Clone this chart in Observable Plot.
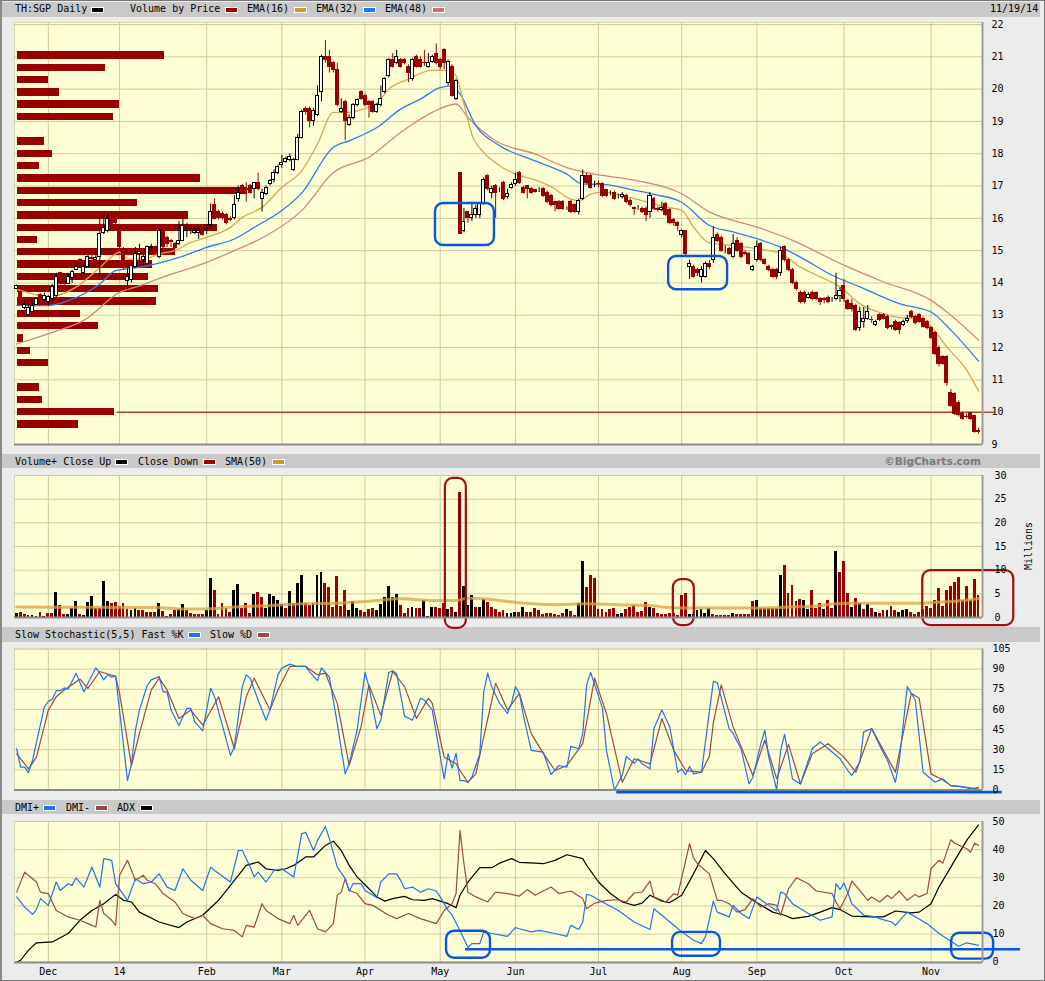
<!DOCTYPE html>
<html><head><meta charset="utf-8">
<script src="https://cdn.jsdelivr.net/npm/d3@7"></script>
<script src="https://cdn.jsdelivr.net/npm/@observablehq/plot@0.6"></script>
<style>
html,body{margin:0;padding:0;background:#ececec;}
#root{position:relative;width:1045px;height:981px;overflow:hidden;background:#ececec;}
.band{position:absolute;left:2px;width:1038px;background:#c9c9c9;}
.t{position:absolute;font-family:"DejaVu Sans Mono",monospace;font-size:10px;color:#000;white-space:pre;line-height:10px;}
.sw{position:absolute;width:11px;height:4px;border:1px solid #fff;}
#edge{position:absolute;left:0;top:0;width:1045px;height:981px;box-sizing:border-box;border:1px solid #777;border-left:2px solid #8a8a8a;pointer-events:none;}
</style></head><body><div id="root"></div>
<script>
// ---------- categories / axis ----------
const MONTH_LABELS = ["Dec","14","Feb","Mar","Apr","May","Jun","Jul","Aug","Sep","Oct","Nov"];
const MONTH_IDX = [8,26,48,67,88,107,126,147,168,187,209,231];
const PRICE_TICKS = [9,10,11,12,13,14,15,16,17,18,19,20,21,22];
const VOL_TICKS = [0,5,10,15,20,25,30];
const STO_TICKS = [0,15,30,45,60,75,90,105];
const DMI_TICKS = [0,10,20,30,40,50];

// ---------- daily OHLC ----------
const OPEN = [13.82,13.71,13.23,13.02,13.11,13.32,13.62,13.48,13.40,13.50,
13.60,14.30,14.18,13.98,14.16,14.40,14.71,14.30,14.50,14.78,
14.72,14.80,15.55,15.60,15.98,15.98,15.62,15.00,14.07,14.08,
14.50,14.90,14.70,14.60,15.08,15.10,14.80,15.60,15.40,15.30,
15.20,15.20,15.30,15.60,15.60,15.55,15.55,15.60,15.60,15.80,
16.42,16.20,16.15,16.10,15.98,16.00,16.60,17.00,16.90,17.00,
16.90,17.10,16.60,16.75,17.05,17.20,17.40,17.65,17.75,17.80,
17.50,17.80,18.50,19.40,19.40,19.00,19.20,19.90,21.00,21.00,
20.80,20.60,19.30,19.60,18.90,19.10,19.50,19.90,19.80,19.60,
19.60,19.30,19.50,19.90,20.40,20.90,20.80,20.90,20.90,20.70,
20.30,21.00,20.90,20.82,20.70,20.85,21.10,20.90,21.20,20.20,
20.70,19.70,17.40,15.60,16.20,16.00,16.10,16.10,16.45,17.30,
16.80,17.00,16.85,17.10,16.65,16.95,17.05,17.40,16.95,17.00,
16.90,16.88,16.85,16.90,16.80,16.70,16.50,16.50,16.50,16.30,
16.50,16.40,16.20,16.60,17.30,17.30,17.05,17.07,17.05,16.87,
16.80,16.80,16.70,16.65,16.70,16.55,16.32,16.30,16.30,16.30,
16.20,16.60,16.28,16.25,16.45,16.25,15.95,15.85,15.50,15.60,
14.50,14.50,14.40,14.20,14.20,14.60,14.70,15.50,15.40,15.05,
15.05,14.80,15.30,15.20,14.92,14.90,14.40,14.70,15.20,14.70,
14.50,14.40,14.40,14.30,15.10,14.70,14.40,14.00,13.70,13.70,
13.55,13.70,13.70,13.50,13.50,13.55,13.50,13.50,13.60,13.90,
13.45,13.35,13.30,12.60,12.80,12.90,12.86,12.70,13.00,13.00,
12.95,12.66,12.80,12.75,12.70,12.82,13.10,12.95,13.00,12.90,
12.80,12.60,12.45,12.00,11.70,11.70,10.60,10.55,10.30,9.95,
9.86,9.98,9.88,9.42];
const HIGH = [13.94,13.75,13.42,13.35,13.43,13.52,13.66,13.69,13.60,13.95,
14.30,14.33,14.22,14.30,14.40,14.59,14.75,14.55,14.85,14.98,
15.00,16.13,16.10,16.13,16.05,16.05,15.65,15.10,14.45,14.60,
15.10,15.20,14.90,15.15,15.20,15.15,15.65,15.65,15.45,15.35,
15.25,15.90,16.10,15.85,15.70,15.70,15.72,15.65,15.80,16.45,
16.60,16.25,16.20,16.15,16.05,16.70,17.00,17.05,17.10,17.05,
17.10,17.40,16.90,17.00,17.20,17.50,17.65,17.95,17.90,18.00,
17.85,18.60,19.35,19.45,19.45,19.40,20.10,21.05,21.50,21.20,
20.85,20.80,19.70,19.65,19.20,19.55,19.70,19.95,19.85,19.65,
19.65,19.55,20.10,20.35,20.95,21.10,21.20,20.95,20.95,20.75,
20.95,21.05,21.00,21.20,21.10,21.05,21.40,20.95,21.25,20.90,
20.75,20.30,17.42,16.30,16.20,16.50,16.40,16.50,17.25,17.35,
17.00,17.05,16.95,17.15,16.90,17.10,17.40,17.45,17.00,17.00,
16.95,16.90,16.95,16.95,16.85,16.75,16.50,16.55,16.55,16.35,
16.55,16.45,16.60,17.50,17.40,17.35,17.15,17.15,17.10,16.90,
16.85,16.85,16.75,16.80,16.75,16.60,16.35,16.40,16.35,16.35,
16.80,16.65,16.35,16.50,16.50,16.30,16.00,15.90,15.65,15.60,
14.70,14.55,14.45,14.50,14.65,14.70,15.73,15.55,15.45,15.15,
15.10,15.50,15.40,15.25,15.00,14.95,14.55,15.30,15.25,14.75,
14.55,14.45,14.45,15.10,15.15,14.75,14.45,14.05,13.75,13.75,
13.70,13.75,13.72,13.55,13.55,13.60,13.55,14.30,13.85,14.10,
13.50,13.50,13.35,13.25,13.25,13.30,12.95,12.85,13.05,13.05,
13.00,12.70,12.85,12.80,12.85,13.00,13.15,13.00,13.05,12.95,
12.85,12.65,12.50,12.05,11.75,11.75,10.70,10.60,10.35,10.00,
9.95,10.00,9.90,9.50];
const LOW = [13.80,13.50,13.17,12.99,13.09,13.30,13.50,13.40,13.29,13.48,
13.55,13.87,13.90,13.96,13.98,14.38,14.45,14.28,14.48,14.70,
14.69,14.20,15.50,15.55,15.80,15.80,15.05,14.40,13.78,14.00,
14.45,14.70,14.55,14.55,15.00,14.90,14.75,15.05,15.10,15.10,
15.05,15.15,15.28,15.40,15.50,15.50,15.35,15.45,15.50,15.70,
15.95,15.95,15.95,15.80,15.90,15.95,16.50,16.75,16.50,16.75,
16.60,16.85,16.20,16.70,17.00,17.10,17.35,17.55,17.70,17.75,
17.45,17.78,18.45,19.20,18.80,18.85,19.15,19.60,20.80,20.50,
20.50,19.45,19.25,18.40,18.85,19.05,19.45,19.65,19.45,19.10,
19.25,19.25,19.45,19.85,20.35,20.65,20.75,20.65,20.75,20.20,
20.25,20.65,20.65,20.70,20.65,20.80,20.75,20.60,20.60,20.10,
19.75,19.65,15.50,15.55,15.85,15.90,16.00,16.00,16.40,16.85,
16.60,16.00,16.80,16.55,16.60,16.90,17.00,17.05,16.75,16.60,
16.75,16.78,16.80,16.65,16.45,16.35,16.20,16.25,16.25,16.25,
16.15,16.15,16.10,16.55,17.05,16.90,16.95,16.95,16.65,16.65,
16.70,16.55,16.60,16.60,16.45,16.35,16.10,16.25,16.15,15.90,
16.00,16.25,16.20,16.20,16.05,15.80,15.75,15.60,15.40,14.85,
14.10,14.15,14.20,14.00,14.15,14.40,14.60,15.25,14.95,14.90,
14.85,14.75,14.95,14.75,14.85,14.55,14.35,14.65,14.65,14.55,
14.35,14.15,14.10,14.20,14.65,14.35,13.95,13.75,13.35,13.35,
13.50,13.45,13.45,13.30,13.35,13.35,13.40,13.45,13.40,13.40,
13.15,13.10,12.50,12.50,12.60,12.85,12.75,12.65,12.80,12.85,
12.55,12.55,12.50,12.40,12.65,12.75,12.90,12.70,12.75,12.60,
12.55,12.25,11.75,11.40,11.45,10.80,10.15,9.90,9.85,9.75,
9.80,9.75,9.35,9.32];
const CLOSE = [13.90,13.53,13.33,13.23,13.30,13.50,13.55,13.59,13.56,13.86,
14.20,13.97,13.97,14.19,14.33,14.50,14.48,14.50,14.81,14.75,
14.76,15.53,15.70,15.98,15.83,15.85,15.10,14.50,14.17,14.53,
14.90,14.95,14.80,15.10,15.10,14.95,15.60,15.10,15.20,15.28,
15.08,15.30,15.77,15.62,15.60,15.62,15.62,15.50,15.62,16.20,
15.98,16.00,16.00,15.85,15.95,16.42,16.80,16.80,16.88,16.80,
17.10,16.90,16.80,16.95,17.15,17.40,17.60,17.72,17.85,17.90,
17.80,18.50,19.30,19.30,19.00,19.33,19.80,21.00,20.90,20.70,
20.60,19.50,19.40,19.00,19.10,19.50,19.65,19.70,19.50,19.50,
19.30,19.50,19.70,20.30,20.90,20.70,21.00,20.70,20.80,20.50,
20.90,20.70,20.70,20.80,20.80,21.00,20.80,20.70,20.80,20.85,
19.80,20.25,15.52,15.90,16.00,16.10,16.30,16.45,17.20,16.90,
16.90,16.80,16.85,16.60,16.75,17.02,17.20,17.10,16.80,16.90,
16.80,16.82,16.85,16.70,16.50,16.40,16.40,16.30,16.30,16.30,
16.20,16.20,16.55,17.30,17.10,16.95,17.05,17.05,16.70,16.70,
16.80,16.60,16.70,16.72,16.50,16.40,16.30,16.30,16.20,16.10,
16.70,16.30,16.25,16.32,16.10,15.85,15.85,15.75,15.60,14.90,
14.60,14.20,14.30,14.40,14.60,14.50,15.40,15.30,15.00,15.05,
14.90,15.20,15.00,14.80,14.90,14.60,14.50,15.10,14.70,14.60,
14.40,14.20,14.20,15.00,14.70,14.40,14.00,13.80,13.40,13.40,
13.62,13.50,13.50,13.40,13.48,13.40,13.50,13.60,13.75,13.50,
13.20,13.20,12.55,13.10,12.90,13.10,12.85,12.80,12.85,12.90,
12.60,12.65,12.55,12.55,12.80,12.90,12.95,12.75,12.80,12.65,
12.60,12.30,11.80,11.50,11.50,10.90,10.20,9.95,9.90,9.80,
9.85,9.78,9.40,9.40];

// ---------- moving averages: [day index, value] ----------
const EMA16 = [[0,13.81],[4,13.66],[7,13.59],[10,13.61],[15,13.87],[21,14.48],[25,14.9],[26,14.95],[28,14.74],[32,14.74],[36,14.9],[41,15.05],[43,15.2],[48,15.41],[54,15.72],[57,16.03],[62,16.34],[67,16.96],[72,17.47],[76,18.3],[80,19.28],[84,19.28],[86,19.33],[91,19.56],[94,20.0],[99,20.31],[105,20.59],[109,20.57],[111,20.41],[113,19.54],[115,18.6],[118,18.04],[122,17.63],[126,17.37],[131,17.19],[136,16.91],[139,16.65],[142,16.55],[145,16.75],[148,16.81],[156,16.61],[164,16.35],[168,16.25],[171,15.73],[175,15.24],[181,15.16],[187,15.06],[193,14.91],[198,14.49],[203,14.19],[208,13.88],[213,13.36],[219,13.05],[223,12.93],[228,12.9],[231,12.64],[235,12.02],[240,11.3],[243,10.65]];
const EMA32 = [[0,13.3],[8,13.3],[13,13.45],[21,13.97],[25,14.38],[31,14.48],[41,14.79],[48,15.1],[55,15.36],[60,15.72],[67,16.24],[72,16.78],[80,18.2],[84,18.4],[91,18.81],[97,19.38],[102,19.69],[107,20.05],[110,20.1],[112,19.85],[116,18.87],[122,18.25],[131,17.78],[139,17.37],[143,17.06],[148,17.05],[156,16.87],[161,16.74],[168,16.5],[175,15.78],[181,15.58],[187,15.37],[193,15.11],[198,14.8],[206,14.24],[213,13.88],[223,13.36],[231,13.1],[236,12.54],[243,11.58]];
const EMA48 = [[0,12.11],[9,12.47],[17,12.84],[26,13.71],[30,13.87],[38,14.23],[47,14.59],[55,15.0],[63,15.46],[72,16.24],[80,17.42],[89,17.89],[97,18.66],[105,19.28],[111,19.54],[114,19.12],[121,18.4],[131,17.99],[139,17.57],[146,17.37],[148,17.33],[156,17.18],[168,16.76],[175,16.2],[187,15.73],[195,15.37],[209,14.55],[219,14.03],[231,13.46],[235,13.1],[243,12.23]];
const LAST_LEVEL = [{y: 10.0, from: 25.5, to: 247.3}];

// ---------- volume by price ----------
const VBP_PRICE = [21.04,20.66,20.28,19.90,19.52,19.14,18.76,18.38,18.00,17.62,17.24,16.85,16.47,16.09,15.71,15.33,14.95,14.57,14.19,13.81,13.42,13.04,12.66,12.28,11.90,11.52,11.14,10.76,10.38,10.00,9.62];
const VBP_VOL = [14.7,8.8,3.1,4.2,10.2,9.6,0,2.7,3.5,2.2,18.3,23.0,12.0,17.1,20.0,2.0,15.8,13.5,13.1,14.1,13.9,6.3,8.1,0.6,1.3,3.1,0,2.2,2.5,9.7,6.1];

// ---------- volume (millions) ----------
const VOLUME = [0.77,1.13,0.63,0.49,0.35,0.28,0.99,0.28,0.77,0.77,
5.28,2.54,0.63,0.63,1.97,3.38,0.63,0.35,3.17,4.44,
1.97,1.83,7.61,3.38,3.03,3.17,2.32,2.89,1.62,1.48,
1.83,1.48,1.48,1.13,1.13,1.13,2.89,1.27,0.28,0.63,
1.48,1.62,2.75,1.48,0.77,0.63,0.63,0.63,1.48,8.17,
5.70,0.63,3.03,1.97,1.13,5.70,6.97,1.97,2.89,0.77,
4.86,5.28,4.30,1.97,4.86,4.44,3.59,2.68,1.83,5.56,
2.89,7.11,8.87,3.03,2.61,2.89,8.87,9.51,7.18,6.41,
2.18,8.66,2.32,5.70,1.48,3.38,1.97,1.48,1.13,1.62,
1.97,1.48,2.75,4.15,6.55,4.30,4.86,2.54,0.77,1.83,
2.18,1.83,1.83,3.59,0.28,2.18,2.18,1.83,3.03,1.62,
2.18,1.13,26.5,6.55,2.54,4.65,2.18,2.18,3.80,3.24,
2.18,1.62,1.13,1.48,0.92,0.92,1.13,1.13,2.18,1.13,
1.13,1.97,1.48,0.63,0.92,0.77,0.63,0.42,0.77,1.62,
1.20,0.42,2.89,11.83,6.27,8.80,8.17,1.62,1.62,1.13,
1.62,1.83,0.63,0.92,1.62,2.18,2.54,1.13,1.34,3.10,
2.18,1.97,0.92,0.63,0.63,0.77,0.92,0.42,4.65,5.00,
0.63,0.63,1.48,1.62,0.77,1.83,0.63,0.42,0.42,0.42,
0.50,0.77,0.63,0.63,0.63,0.63,3.38,3.59,1.97,1.97,
1.97,1.97,1.97,8.87,11.0,5.00,6.76,3.45,3.73,3.59,
1.62,5.70,1.97,2.89,1.62,3.59,1.83,13.9,9.58,11.8,
5.00,2.18,3.94,2.89,1.62,2.75,1.83,1.13,0.77,1.48,
1.48,2.32,1.48,1.13,1.48,1.62,1.13,0.63,1.13,1.70,
2.3,1.8,3.6,6.1,2.3,5.7,6.6,7.5,8.5,3.6,
6.6,3.5,8.1,4.65];
// b = close up (black), r = close down (red)
const VOL_DIR = "brrrbbrbrr"+"brrbbbrbbb"+"rrbbrrrrrb"+"brrrrrbrbr"+"rbbrrrrrbb"+"rrrrrbbrrr"+"brrbbbbbrb"+"rbbrrbbbrr"+"rrrrbbbrrr"+"rbbbbbbrrr"+"brrbbbrrrb"+"rbrbbbrbbr"+"rrrrbbbrbr"+"rrrrrrrrrb"+"rrbbrrrrrr"+"rrbbrrrrrr"+"brrrrrrrrr"+"bbbbbbrrrr"+"rbrrrrrbrr"+"rrrbrrrrrb"+"brrrbrrbrr"+"rbrbrbrbrr"+"brrbbbrrrr"+"rrrrrrrrrr"+"rrrr";
const SMA50 = [[0,2.2],[20,2.15],[35,2.1],[42,1.8],[47,1.8],[55,2.2],[63,2.5],[72,2.89],[80,3.0],[89,3.45],[97,3.94],[105,3.59],[111,3.6],[114,4.08],[118,3.94],[126,3.2],[136,2.7],[144,2.9],[152,2.7],[161,2.5],[163,2.2],[169,2.0],[178,2.0],[186,2.0],[195,2.2],[203,2.5],[207,2.9],[212,3.0],[220,3.0],[228,3.0],[232,3.2],[237,3.45],[243,3.94]];

// ---------- slow stochastic (5,5): [day index, value] ----------
const FAST_K = [[0,30.75],[1,17],[2,17],[3,13],[4,22],[7,62],[8,66],[9,67.5],[10,74],[11,74],[12,76],[13,75],[15,87],[17,73],[18,79.5],[20,91],[21,87],[22,82],[23,86],[24,84],[25,85],[28,7],[29,19.5],[30,44.5],[31,59.5],[33,78],[34,82],[36,84.5],[37,73],[38,73],[39,59.5],[41,48],[43,60.75],[44,60.75],[45,50.75],[47,44],[49,75.75],[50,69.5],[54,25.75],[55,32],[57,77],[58,85.75],[59,83.25],[61,67],[63,52],[64,59.5],[66,85.75],[67,90.75],[69,93.75],[71,92],[73,92],[74,88],[76,81.5],[77,91],[78,87.5],[79,84],[81,49.5],[83,12],[84,19.5],[86,44.5],[88,87.5],[89,77],[91,45.75],[92,52],[94,87.5],[95,88.75],[96,86.5],[98,55],[100,52],[102,68.25],[103,67],[105,59.5],[108,8.25],[109,27],[110,16.25],[111,27.5],[112,7],[113,7],[114,5.75],[115,9.5],[117,27],[118,73.25],[119,87],[120,77],[122,64.5],[124,57],[125,64.5],[126,77],[127,72],[128,55.75],[130,29.5],[133,28.25],[135,11.5],[137,18.25],[139,17],[140,32.5],[142,30.75],[143,42],[144,78.25],[145,87.5],[148,60.75],[149,29.5],[151,0],[153,10.75],[154,25],[156,20],[157,23.25],[158,19.5],[160,15.75],[161,45.75],[163,59.5],[165,47],[167,13.25],[168,15.75],[169,11.5],[170,17.5],[171,12],[173,13.25],[176,80.75],[177,80],[180,45.75],[181,42],[183,30.75],[185,4.5],[186,9.5],[188,34.5],[189,44.5],[190,24.5],[192,0],[193,29.5],[194,41.5],[196,8.25],[198,4.5],[201,30.75],[203,35.75],[206,28.25],[208,23.25],[210,14.5],[211,10.75],[213,20.75],[214,43.25],[216,45.75],[218,33.25],[220,22],[222,5.75],[223,22],[225,77],[227,67],[229,13.25],[232,5.75],[234,8.25],[236,3.25],[239,2.5],[241,0.75],[243,2]];
const SLOW_D = [[0,27],[1,23.25],[3,15.75],[5,24.5],[8,59.5],[10,69.5],[12,74.5],[16,82.5],[18,75.75],[21,88.25],[25,84.5],[26,72],[29,18.25],[31,42],[34,74.5],[36,83.25],[38,74.5],[41,53.25],[44,59.5],[47,48.25],[51,69.5],[55,30.75],[58,69.5],[60,83.25],[64,59.5],[66,74.5],[69,92],[73,92],[76,85.75],[78,87],[81,64.5],[84,18.25],[87,47],[89,78.25],[92,55.75],[95,88.25],[98,77],[101,53.25],[104,68.25],[105,64.5],[108,24.5],[111,19.5],[112,14.5],[114,5.75],[116,12],[118,39.5],[121,79.5],[124,59.5],[127,72],[130,42],[133,27.5],[136,14.5],[139,18.25],[143,34.5],[146,83.25],[149,57],[153,5.75],[156,23.25],[160,19.5],[163,53.25],[166,29.5],[169,14.5],[173,13.25],[175,25],[176,50],[178,78.25],[181,47],[186,10.75],[189,37],[192,8.25],[195,34],[198,4.5],[201,27],[205,34.5],[209,24.5],[212,13.25],[216,45.75],[219,29.5],[222,13.25],[226,72],[228,68.25],[231,12],[234,7.5],[236,3.25],[240,2],[243,0.75]];

// ---------- DMI / ADX: [day index, value] ----------
const DMI_PLUS = [[0,23.2],[2,19.6],[4,17],[5,18.7],[6,22.6],[8,20.2],[10,28.5],[11,25.5],[13,27.9],[14,27.3],[15,30],[17,26.7],[19,33.8],[21,26.7],[22,36.8],[24,36.2],[25,27.9],[28,22],[30,29.7],[32,27.9],[34,28.5],[36,31.4],[38,26.7],[40,25.5],[42,33.2],[44,29.1],[47,25.5],[49,33.8],[50,32.6],[54,28.5],[56,39.7],[57,39.7],[59,33.8],[60,30.3],[61,32],[63,28.5],[65,32.6],[67,33.2],[70,30.3],[72,45.6],[73,46.2],[75,39.7],[76,43.3],[78,48.2],[79,43.9],[81,33.8],[83,29.7],[84,25.3],[85,27.9],[87,27.9],[88,25.5],[91,22.9],[92,28.5],[94,31.4],[96,31.4],[97,29.1],[98,26.1],[100,26.7],[102,24.9],[104,26.1],[106,25.3],[107,23.2],[109,18.4],[110,16.7],[112,11.3],[114,5.2],[115,6.6],[117,6.6],[118,10.8],[120,10.2],[124,9.2],[126,12.3],[127,11.9],[130,10.8],[132,11.3],[136,10.2],[139,9.2],[140,13.1],[142,11.6],[143,14.3],[144,24.1],[145,23.8],[148,21.4],[152,18.4],[156,14.3],[160,11.6],[161,19],[163,16.7],[168,10.8],[171,7.8],[173,6.6],[174,9],[176,21.7],[177,17.8],[180,16.1],[181,20.2],[183,17.3],[185,15.5],[187,23.2],[190,20.2],[192,18.2],[193,24.9],[194,24.4],[196,20.8],[200,17.3],[203,14.9],[206,16.1],[207,27.9],[208,25.8],[209,28.1],[210,24.6],[211,20.8],[214,16.7],[217,16.1],[218,15.5],[221,14.3],[222,13.1],[225,17.8],[230,13.7],[233,10.2],[237,6.6],[238,5.7],[240,6.9],[243,6]];
const DMI_MINUS = [[0,24.9],[2,32],[5,28.5],[6,24.9],[8,24.4],[10,18.4],[13,16.1],[16,14.9],[18,13.7],[20,12.5],[21,22],[22,17.3],[24,14.9],[25,13.1],[26,30.9],[28,36.2],[30,29.1],[32,30.9],[33,29.1],[35,27.9],[37,24.4],[40,21.4],[42,17.3],[45,15.5],[47,16.7],[49,13.7],[52,11.9],[55,11.3],[57,9],[58,13.1],[60,12.5],[62,20.8],[63,18.4],[66,15.5],[69,13.7],[70,16.7],[71,13.1],[74,18.4],[76,11.9],[78,10.8],[80,13.7],[81,23.8],[82,24.9],[83,29.7],[84,25.5],[86,24.4],[88,20.8],[90,20.2],[94,16.7],[96,15.5],[99,17.3],[102,15.5],[106,13.7],[108,18.4],[110,20.8],[111,24.4],[112,46.8],[113,35],[114,24.9],[116,23.2],[119,21.4],[121,24.9],[124,24.4],[127,23.5],[129,25.8],[131,23.8],[135,26.7],[137,24.4],[140,25.3],[141,24.4],[143,22.6],[144,19],[146,21],[149,22],[152,22.2],[154,21.4],[156,24.6],[158,24.9],[160,28.8],[161,23.2],[164,21.4],[166,24.4],[167,23.8],[170,42.1],[171,37.1],[172,35],[175,31.4],[177,22],[178,22],[180,20.8],[182,17.8],[184,18.7],[186,22.6],[188,19.6],[190,20.8],[192,20.2],[193,16.7],[195,26.1],[197,30],[200,27.9],[202,25.3],[206,24.4],[207,21.4],[208,19],[210,24.6],[211,28.8],[213,25.5],[215,22],[216,23.2],[218,21.4],[220,23.8],[221,22.6],[223,25.3],[225,22],[227,24.1],[228,23.2],[230,24.4],[231,33.2],[233,36.2],[234,35.2],[236,43.5],[237,42.3],[240,40.3],[241,39.1],[242,42.3],[243,41.5]];
const ADX = [[0,0],[1,0.7],[3,4.3],[5,6.9],[9,7.2],[13,10.2],[16,14.9],[19,18.4],[22,20.8],[25,24.1],[27,22],[29,21.4],[31,17.8],[36,14.3],[41,12.3],[43,14.3],[47,16.7],[51,22],[55,29.1],[58,34.4],[61,35.6],[63,33.2],[66,32.6],[68,33.2],[70,34.4],[73,37.4],[75,37.4],[78,41.5],[80,43],[82,39.7],[84,34.4],[86,30.3],[89,26.1],[91,23.2],[93,21.7],[95,22.6],[98,23.4],[100,22.2],[103,22],[105,22.6],[109,20.8],[111,19.4],[112,23.8],[114,28.5],[117,33.6],[120,33.6],[122,35.2],[125,36.8],[127,35.5],[131,35.2],[133,35],[136,36.2],[139,38.2],[143,36.8],[144,34.4],[147,28.5],[150,24.4],[153,21.4],[156,20.2],[158,21],[160,23.8],[163,21.7],[165,21.2],[168,23.8],[171,31.4],[174,39.7],[176,36.8],[179,31.4],[183,24.9],[186,22],[191,17.8],[194,16.7],[196,15.5],[200,16.3],[203,17.8],[206,19.4],[208,18.7],[211,16.4],[216,16.1],[219,16.1],[222,18.2],[226,17.5],[228,17.8],[231,20.8],[233,26.7],[237,36.2],[240,43.3],[243,48.8]];

// ---------- hand-drawn annotations, in data coordinates ----------
const PRICE_BOXES = [{x1:105.8,x2:120.7,y1:15.16,y2:16.46},{x1:164.7,x2:179.6,y1:13.79,y2:14.82}];
const VOL_BOXES = [{x1:108.3,x2:113.6,y1:-2.3,y2:29.4},{x1:165.9,x2:171.2,y1:-1.7,y2:8.0},{x1:228.9,x2:251.9,y1:-1.7,y2:9.9}];
const STO_LINE = [{y:-1.6,from:151.6,to:249}];
const DMI_BOXES = [{x1:108.6,x2:119.7,y1:1.4,y2:11.0},{x1:165.7,x2:177.8,y1:2.1,y2:10.6},{x1:236.2,x2:246.8,y1:1.1,y2:10.3}];
const DMI_LINE = [{y:4.6,from:113.4,to:253.6}];

// ================= drawing =================
const root = document.getElementById("root");
const XDOM = [-0.55, 244.0];
const FONT = "'DejaVu Sans Mono', monospace";
const GRID = "#cccc99", BG = "#ffffd6";
const RED = "#990000", BLUE = "#1f74e8", DRED = "#a24545";
const ANN_BLUE = "#0a55e0", ANN_RED = "#a01010";

function put(svg, top) {
  svg.style.position = "absolute"; svg.style.left = "0px"; svg.style.top = top + "px";
  root.appendChild(svg);
}
function mk(top, height, mt, mb, y, marks, x) {
  const svg = Plot.plot({
    width: 1045, height, marginLeft: 14, marginRight: 63, marginTop: mt, marginBottom: mb,
    x: x || {domain: XDOM, axis: null}, y,
    style: {background: "transparent", overflow: "visible", fontFamily: FONT, fontSize: "10px", color: "#000"},
    marks
  });
  put(svg, top);
}
function band(top, h) { const d = document.createElement("div"); d.className = "band"; d.style.top = top + "px"; d.style.height = h + "px"; root.appendChild(d); }
function txt(s, left, top, extra) { const d = document.createElement("div"); d.className = "t"; d.textContent = s; d.style.left = left + "px"; d.style.top = top + "px"; if (extra) Object.assign(d.style, extra); root.appendChild(d); return d; }
function sw(color, left, top) { const d = document.createElement("div"); d.className = "sw"; d.style.background = color; d.style.left = left + "px"; d.style.top = top + "px"; root.appendChild(d); }

// header bands
band(2, 15); band(454, 14); band(627, 15); band(800, 14);
txt("TH:SGP Daily", 15, 4); sw("#000", 91, 7);
txt("Volume by Price", 130, 4); sw(RED, 225, 7);
txt("EMA(16)", 247, 4); sw("#cc9933", 294, 7);
txt("EMA(32)", 316, 4); sw("#1a75ff", 363, 7);
txt("EMA(48)", 385, 4); sw("#d07070", 432, 7);
txt("11/19/14", 990, 4);
txt("Volume+ Close Up", 15, 457); sw("#000", 115, 459);
txt("Close Down", 138, 457); sw(RED, 203, 459);
txt("SMA(50)", 225, 457); sw("#cc9933", 272, 459);
txt("\u00a9BigCharts.com", 0, 456, {left: "auto", right: "64px", fontFamily: "'DejaVu Sans', sans-serif", fontWeight: "bold", fontSize: "10.5px", color: "#7a7a7a"});
txt("Slow Stochastic(5,5) Fast %K", 15, 630); sw(BLUE, 188, 632);
txt("Slow %D", 210, 630); sw(DRED, 257, 632);
txt("DMI+", 15, 803); sw(BLUE, 43, 805);
txt("DMI-", 66, 803); sw(DRED, 95, 805);
txt("ADX", 117, 803); sw("#000", 140, 805);
txt("Millions", 0, 0, {left: "1005px", top: "541px", transform: "rotate(-90deg)", transformOrigin: "center"});

const candles = CLOSE.map((c, i) => ({i, o: OPEN[i], h: HIGH[i], l: LOW[i], c}));
const up = candles.filter(d => d.c >= d.o), dn = candles.filter(d => d.c < d.o);
const vols = VOLUME.map((v, i) => ({i, v, d: VOL_DIR[i]}));
const vbp = VBP_PRICE.map((p, k) => ({p, v: VBP_VOL[k]})).filter(d => d.v > 0);
const px = d => d[0], py = d => d[1];

const priceY = {domain: [9.0, 22.062]};
// price: background + grid
mk(17, 433, 5, 6, {...priceY, axis: null}, [
  Plot.frame({fill: BG, stroke: "#d6d6aa"}),
  Plot.ruleY(PRICE_TICKS, {stroke: GRID}),
  Plot.ruleX(MONTH_IDX, {stroke: GRID})
]);
// price: volume by price
mk(17, 433, 5, 6, {...priceY, axis: null}, [
  Plot.rect(vbp, {x1: () => 0, x2: "v", y1: d => d.p - 0.115, y2: d => d.p + 0.115, fill: RED, shapeRendering: "crispEdges"})
], {domain: [-0.3, 96.5], axis: null});
// price: candles, EMAs, annotations, axis
mk(17, 433, 5, 6, priceY, [
  Plot.ruleY(LAST_LEVEL, {y: "y", x1: "from", x2: "to", stroke: "#8b0000", strokeWidth: 1, clip: false}),
  Plot.line(EMA48, {x: px, y: py, stroke: "#d98282", strokeWidth: 1.3, curve: "monotone-x"}),
  Plot.line(EMA32, {x: px, y: py, stroke: "#2a7ff0", strokeWidth: 1.3, curve: "monotone-x"}),
  Plot.line(EMA16, {x: px, y: py, stroke: "#d9a550", strokeWidth: 1.3, curve: "monotone-x"}),
  Plot.ruleX(dn, {x: "i", y1: "l", y2: "h", stroke: RED}),
  Plot.rect(dn, {x1: d => d.i - 0.38, x2: d => d.i + 0.38, y1: "o", y2: "c", fill: RED, stroke: RED, shapeRendering: "crispEdges"}),
  Plot.ruleX(up, {x: "i", y1: "l", y2: "h", stroke: "#000"}),
  Plot.rect(up, {x1: d => d.i - 0.38, x2: d => d.i + 0.38, y1: "o", y2: "c", fill: "#fff", stroke: "#000", shapeRendering: "crispEdges"}),
  Plot.rect(PRICE_BOXES, {x1: "x1", x2: "x2", y1: "y1", y2: "y2", fill: "none", stroke: ANN_BLUE, strokeWidth: 2.4, rx: 8, clip: false}),
  Plot.ruleY([9.0], {stroke: "#8c8c8c", strokeWidth: 2}),
  Plot.ruleX([XDOM[1]], {stroke: "#9a9a9a", strokeWidth: 2}),
  Plot.axisY(PRICE_TICKS, {anchor: "right", tickSize: 0, tickPadding: 9, label: null})
]);

// volume panel
mk(468, 162, 7, 13, {domain: [0, 30]}, [
  Plot.frame({fill: BG, stroke: "#d6d6aa"}),
  Plot.ruleY(VOL_TICKS, {stroke: GRID}),
  Plot.ruleX(MONTH_IDX, {stroke: GRID}),
  Plot.rect(vols.filter(d => d.d === "b"), {x1: d => d.i - 0.36, x2: d => d.i + 0.36, y1: () => 0, y2: "v", fill: "#000", shapeRendering: "crispEdges"}),
  Plot.rect(vols.filter(d => d.d === "r"), {x1: d => d.i - 0.36, x2: d => d.i + 0.36, y1: () => 0, y2: "v", fill: RED, shapeRendering: "crispEdges"}),
  Plot.line(SMA50, {x: px, y: py, stroke: "#d9a040", strokeWidth: 3, strokeOpacity: 0.75, curve: "monotone-x"}),
  Plot.rect(VOL_BOXES, {x1: "x1", x2: "x2", y1: "y1", y2: "y2", fill: "none", stroke: ANN_RED, strokeWidth: 2.2, rx: 8, clip: false}),
  Plot.ruleY([0], {stroke: "#8c8c8c", strokeWidth: 2}),
  Plot.ruleX([XDOM[1]], {stroke: "#9a9a9a", strokeWidth: 2}),
  Plot.axisY(VOL_TICKS, {anchor: "right", tickSize: 0, tickPadding: 12, label: null})
]);

// stochastic panel
mk(642, 156, 6.5, 8.5, {domain: [0, 105]}, [
  Plot.frame({fill: BG, stroke: "#d6d6aa"}),
  Plot.ruleY(STO_TICKS, {stroke: GRID}),
  Plot.ruleX(MONTH_IDX, {stroke: GRID}),
  Plot.line(SLOW_D, {x: px, y: py, stroke: DRED, strokeWidth: 1.2}),
  Plot.line(FAST_K, {x: px, y: py, stroke: BLUE, strokeWidth: 1.2}),
  Plot.ruleY([0], {stroke: "#8c8c8c", strokeWidth: 2}),
  Plot.ruleX([XDOM[1]], {stroke: "#9a9a9a", strokeWidth: 2}),
  Plot.ruleY(STO_LINE, {y: "y", x1: "from", x2: "to", stroke: ANN_BLUE, strokeWidth: 2.6, clip: false}),
  Plot.axisY(STO_TICKS, {anchor: "right", tickSize: 0, tickPadding: 10, label: null})
]);

// DMI panel
mk(815, 166, 6, 19, {domain: [-0.1, 50]}, [
  Plot.frame({fill: BG, stroke: "#d6d6aa"}),
  Plot.ruleY(DMI_TICKS, {stroke: GRID}),
  Plot.ruleX(MONTH_IDX, {stroke: GRID}),
  Plot.line(ADX, {x: px, y: py, stroke: "#000", strokeWidth: 1.2}),
  Plot.line(DMI_MINUS, {x: px, y: py, stroke: DRED, strokeWidth: 1.2}),
  Plot.line(DMI_PLUS, {x: px, y: py, stroke: BLUE, strokeWidth: 1.2}),
  Plot.ruleY(DMI_LINE, {y: "y", x1: "from", x2: "to", stroke: ANN_BLUE, strokeWidth: 2.6, clip: false}),
  Plot.rect(DMI_BOXES, {x1: "x1", x2: "x2", y1: "y1", y2: "y2", fill: "none", stroke: ANN_BLUE, strokeWidth: 2.4, rx: 8, clip: false}),
  Plot.ruleY([-0.1], {stroke: "#8c8c8c", strokeWidth: 2}),
  Plot.ruleX([XDOM[1]], {stroke: "#9a9a9a", strokeWidth: 2}),
  Plot.axisY(DMI_TICKS, {anchor: "right", tickSize: 0, tickPadding: 10, label: null}),
  Plot.axisX(MONTH_IDX, {anchor: "bottom", tickSize: 0, tickPadding: 5, label: null, tickFormat: d => MONTH_LABELS[MONTH_IDX.indexOf(d)]})
], {domain: XDOM});

const edge = document.createElement("div"); edge.id = "edge"; root.appendChild(edge);
</script></body></html>
